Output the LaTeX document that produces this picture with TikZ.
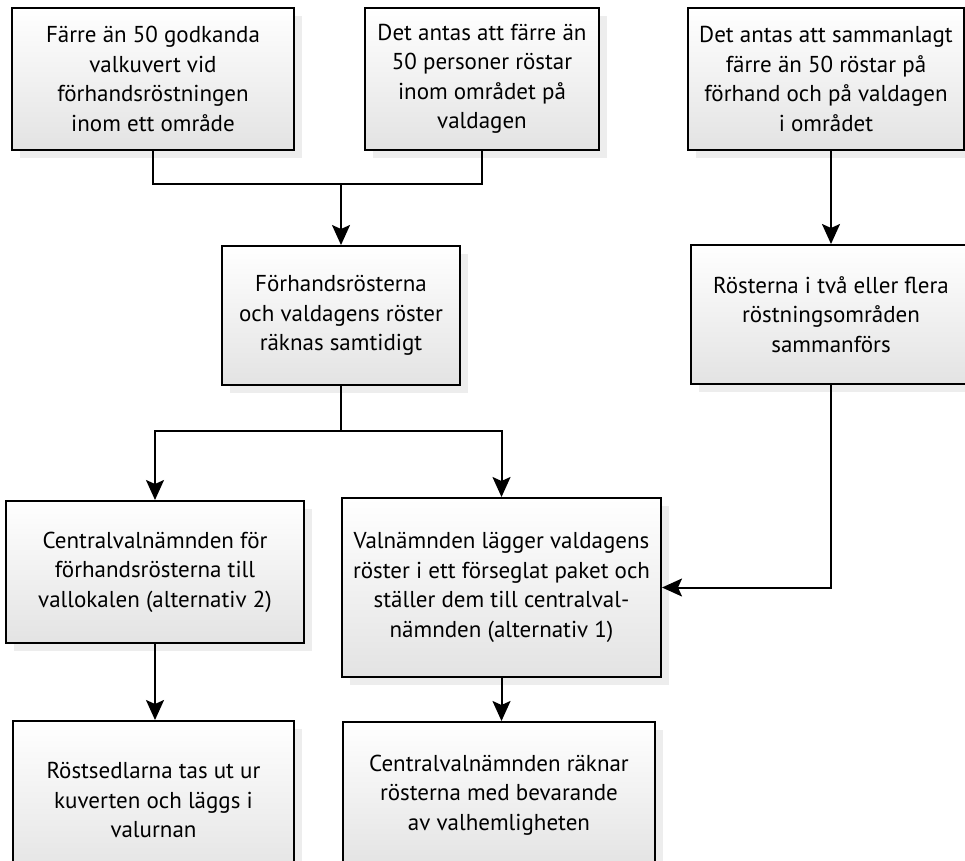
\documentclass[tikz,border=0pt]{standalone}
\usepackage{fontspec}
\setmainfont{PT Sans}
\usepackage{tikz}
\usetikzlibrary{arrows.meta,shadows,positioning,calc}

\begin{document}
\begin{tikzpicture}[
    x=1pt, y=-1pt,
    stepbox/.style={draw, line width=2pt, align=center, inner sep=0pt,
        top color=white, middle color=white, bottom color=black!11,
        drop shadow={shadow xshift=8pt, shadow yshift=-8pt, fill=black!7, opacity=1},
        font=\fontsize{23}{29.5}\selectfont},
    line/.style={line width=2pt},
    arr/.style={line, -{Stealth[length=20pt, width=18pt, inset=4pt]}}
]
\clip (0,0) rectangle (965,860);
\useasboundingbox (0,0) rectangle (965,860);

\node[stepbox, minimum width=282pt, minimum height=142pt] (pre) at (153,79) {Färre än 50 godkanda\\valkuvert vid\\förhandsröstningen\\inom ett område};
\node[stepbox, minimum width=234pt, minimum height=142pt] (day) at (482,79) {Det antas att färre än\\50 personer röstar\\inom området på\\valdagen};
\node[stepbox, minimum width=276pt, minimum height=142pt] (tot) at (826,79) {Det antas att sammanlagt\\färre än 50 röstar på\\förhand och på valdagen\\i området};
\node[stepbox, minimum width=238pt, minimum height=139pt] (same) at (341,315.5) {Förhandsrösterna\\och valdagens röster\\räknas samtidigt};
\node[stepbox, minimum width=280pt, minimum height=139pt] (merge) at (831,314.5) {Rösterna i två eller flera\\röstningsområden\\sammanförs};
\node[stepbox, minimum width=298pt, minimum height=142pt] (alt2) at (155,572) {Centralvalnämnden för\\förhandsrösterna till\\vallokalen (alternativ 2)};
\node[stepbox, minimum width=319pt, minimum height=179pt] (alt1) at (501.5,587.5) {Valnämnden lägger valdagens\\röster i ett förseglat paket och\\ställer dem till centralval-\\nämnden (alternativ 1)};
\node[stepbox, minimum width=281pt, minimum height=158pt] (urn) at (153.5,800) {Röstsedlarna tas ut ur\\kuverten och läggs i\\valurnan};
\node[stepbox, minimum width=312pt, minimum height=146pt] (count) at (499,795) {Centralvalnämnden räknar\\rösterna med bevarande\\av valhemligheten};

% connectors
\coordinate (j1) at (341,184);
\coordinate (j2) at (341,431);
\draw[line] (pre.south) |- (j1) -| (day.south);
\draw[arr] (j1) -- (same.north);
\draw[line] (same.south) -- (j2);
\draw[arr] (j2) -| (alt2.north);
\draw[arr] (j2) -| (alt1.north);
\draw[arr] (merge.north |- tot.south) -- (merge.north);
\draw[arr] (merge.south) |- (alt1.east);
\draw[arr] (alt2.south) -- (alt2.south |- urn.north);
\draw[arr] (alt1.south) -- (alt1.south |- count.north);
\end{tikzpicture}
\end{document}
